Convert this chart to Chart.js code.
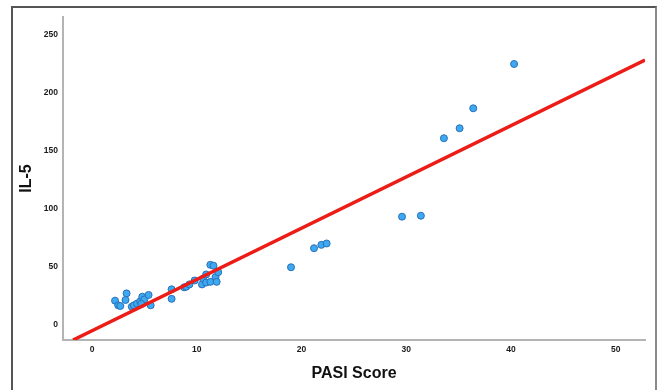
<!DOCTYPE html>
<html>
<head>
<meta charset="utf-8">
<script src="https://cdn.jsdelivr.net/npm/chart.js@4"></script>
<style>
  html, body { margin: 0; padding: 0; background: #fff; overflow: hidden; }
  #wrap { position: relative; width: 659px; height: 390px; }
  #frame {
    position: absolute; left: 11px; top: 6px; width: 646px; height: 400px;
    border: 2px solid #555; border-right-color: #8a8a8a; border-bottom: none; box-sizing: border-box;
  }
  canvas { position: absolute; left: 0; top: 0; }
</style>
</head>
<body>
<div id="wrap">
  <div id="frame"></div>
  <canvas id="chart" width="659" height="390"></canvas>
</div>
<script>
// ── Data ─────────────────────────────────────────────────────────────────────

const pasi = [
  2.2, 2.5, 2.7, 3.3, 3.2, 3.8, 4.0, 4.3, 4.6, 4.8, 5.0, 4.7, 5.4, 5.6,
  7.6, 7.6, 8.8, 9.0, 9.3, 9.8, 10.5, 10.6, 10.9, 10.9, 11.3, 11.3, 11.6,
  11.8, 11.9, 12.05,
  19.0, 21.2, 21.9, 22.4,
  29.6, 31.4,
  33.6, 35.1, 36.4, 40.3
];
const il5 = [
  21, 17, 16.4, 27.3, 21.6, 15.8, 17, 18.5, 20.4, 24.4, 22.1, 18.1, 25.9, 17,
  30.8, 22.6, 32.5, 33, 35, 38.4, 35, 40, 43.6, 36.6, 37.2, 51.9, 51.1,
  41.4, 37.2, 45.6,
  49.8, 66.2, 69.1, 70.3,
  93.4, 94.2,
  161, 169.6, 186.8, 225
];

// fit line end points (clipped at the axis box)
const fitX = [-1.81, 52.8];
const fitY = [-12.9, 228.4];

const xTicks = [0, 10, 20, 30, 40, 50];
const yTicks = [0, 50, 100, 150, 200, 250];

// ── Chart ────────────────────────────────────────────────────────────────────

const tickFont = { family: "'Liberation Sans', Arial, sans-serif", size: 8.5, weight: 'bold' };
const titleFont = { family: "'Liberation Sans', Arial, sans-serif", size: 16, weight: 'bold' };

new Chart(document.getElementById('chart').getContext('2d'), {
  type: 'scatter',
  data: {
    datasets: [
      {
        type: 'line',
        label: 'fit',
        data: fitX.map((x, i) => ({ x, y: fitY[i] })),
        borderColor: '#ec1c16',
        borderWidth: 3.5,
        pointRadius: 0,
        fill: false,
        order: 0,
      },
      {
        label: 'IL-5',
        data: pasi.map((x, i) => ({ x, y: il5[i] })),
        backgroundColor: '#3ca9f0',
        borderColor: '#2b6fb8',
        borderWidth: 1,
        pointRadius: 3.5,
        order: 1,
      },
    ],
  },
  options: {
    responsive: false,
    animation: false,
    devicePixelRatio: 1,
    layout: { padding: { left: 0, top: 17, right: 14, bottom: 0 } },
    plugins: { legend: { display: false }, tooltip: { enabled: false } },
    scales: {
      x: {
        type: 'linear',
        min: -2.77,
        max: 52.8,
        afterBuildTicks: s => { s.ticks = xTicks.map(v => ({ value: v })); },
        afterFit: s => { s.height = 50; },
        grid: { display: false, drawTicks: false },
        border: { color: '#b4b4b4', width: 2 },
        ticks: { color: '#1a1a1a', font: tickFont, padding: 5, maxRotation: 0 },
        title: { display: true, text: 'PASI Score', color: '#111', font: titleFont, padding: { top: 0, bottom: 6.4 } },
      },
      y: {
        type: 'linear',
        min: -12.9,
        max: 265.5,
        afterBuildTicks: s => { s.ticks = yTicks.map(v => ({ value: v })); },
        afterFit: s => { s.width = 63; },
        grid: { display: false, drawTicks: false },
        border: { color: '#b4b4b4', width: 2 },
        ticks: { color: '#1a1a1a', font: tickFont, padding: 5 },
        title: { display: true, text: 'IL-5', color: '#111', font: titleFont, padding: { top: 17, bottom: 0 } },
      },
    },
  },
});
</script>
</body>
</html>
